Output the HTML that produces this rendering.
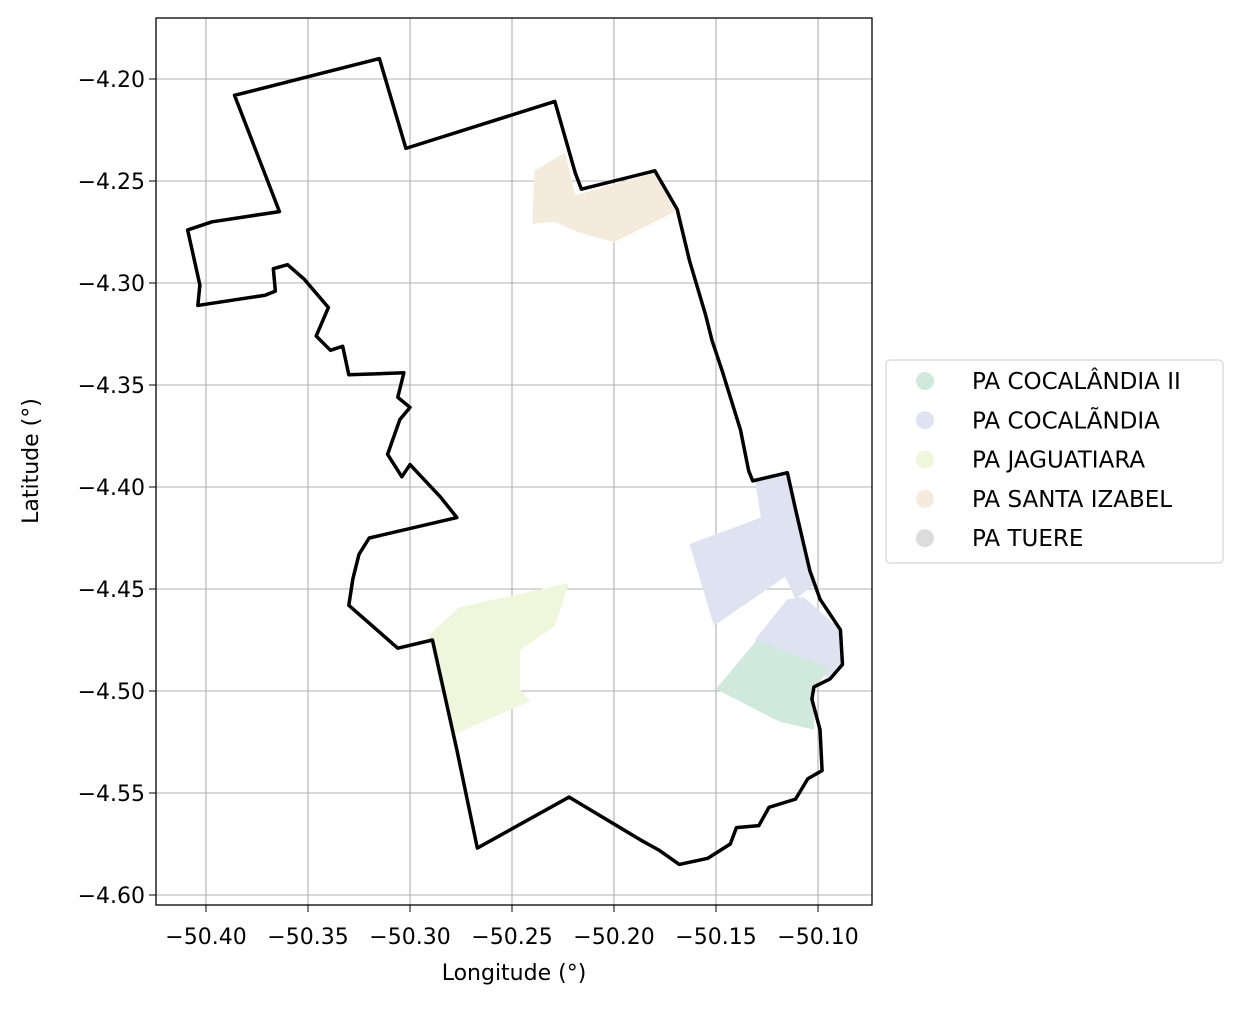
<!DOCTYPE html>
<html><head><meta charset="utf-8">
<style>
body{margin:0;background:#fff;}
svg text{font-family:"DejaVu Sans","Liberation Sans",sans-serif;}
</style></head>
<body>
<svg id="chart" width="1243" height="1006" viewBox="0 0 1243 1006" xmlns="http://www.w3.org/2000/svg">
<rect width="1243" height="1006" fill="#fff"/>
<g id="grid"></g>
<g id="fills"></g>
<g id="bound"></g>
<rect x="156" y="18" width="716" height="887" fill="none" stroke="#000" stroke-width="1.3"/>
<g id="ticks"></g>
<text x="514" y="980" font-size="22" text-anchor="middle">Longitude (°)</text>
<text x="38" y="461" font-size="22" text-anchor="middle" transform="rotate(-90 38 461)">Latitude (°)</text>
<g>
<rect x="886" y="360" width="337" height="203" rx="4" fill="#fff" stroke="#ccc"/>
<g id="legend"></g>
</g>
</svg>
<script>
const xTicks=[-50.40,-50.35,-50.30,-50.25,-50.20,-50.15,-50.10];
const yTicks=[-4.20,-4.25,-4.30,-4.35,-4.40,-4.45,-4.50,-4.55,-4.60];
const boundaryLon=[-50.386,-50.315,-50.302,-50.229,-50.219,-50.216,-50.180,-50.169,-50.163,-50.155,-50.152,-50.147,-50.138,-50.134,-50.132,-50.115,-50.111,-50.104,-50.099,-50.089,-50.088,-50.094,-50.102,-50.103,-50.099,-50.098,-50.105,-50.111,-50.124,-50.129,-50.140,-50.143,-50.154,-50.168,-50.178,-50.187,-50.222,-50.267,-50.277,-50.289,-50.306,-50.330,-50.328,-50.325,-50.320,-50.277,-50.285,-50.300,-50.304,-50.311,-50.305,-50.300,-50.306,-50.303,-50.330,-50.333,-50.339,-50.346,-50.340,-50.352,-50.360,-50.367,-50.366,-50.371,-50.404,-50.403,-50.409,-50.397,-50.364];
const boundaryLat=[-4.208,-4.190,-4.234,-4.211,-4.246,-4.254,-4.245,-4.264,-4.289,-4.316,-4.328,-4.343,-4.372,-4.392,-4.397,-4.393,-4.411,-4.441,-4.455,-4.470,-4.487,-4.494,-4.498,-4.504,-4.519,-4.539,-4.543,-4.553,-4.557,-4.566,-4.567,-4.575,-4.582,-4.585,-4.578,-4.573,-4.552,-4.577,-4.529,-4.475,-4.479,-4.458,-4.445,-4.433,-4.425,-4.415,-4.405,-4.389,-4.395,-4.384,-4.367,-4.361,-4.356,-4.344,-4.345,-4.331,-4.333,-4.326,-4.312,-4.298,-4.291,-4.293,-4.304,-4.306,-4.311,-4.301,-4.274,-4.270,-4.265];
const areaNames=["PA COCALÂNDIA II","PA COCALÃNDIA","PA JAGUATIARA","PA SANTA IZABEL","PA TUERE"];
const areaColors=["#cfeadd","#dfe3f1","#eef7dc","#f5ebdd","#dcdcdc"];
const santaLon=[-50.239,-50.224,-50.219,-50.180,-50.170,-50.200,-50.218,-50.229,-50.240];
const santaLat=[-4.245,-4.236,-4.257,-4.246,-4.265,-4.280,-4.275,-4.270,-4.271];
const coca1Lon=[-50.163,-50.128,-50.131,-50.115,-50.102,-50.111,-50.116,-50.151];
const coca1Lat=[-4.428,-4.415,-4.396,-4.393,-4.448,-4.455,-4.444,-4.468];
const coca2Lon=[-50.131,-50.115,-50.107,-50.089,-50.088,-50.094];
const coca2Lat=[-4.475,-4.455,-4.454,-4.470,-4.487,-4.494];
const coca3Lon=[-50.150,-50.130,-50.094,-50.102,-50.102,-50.119];
const coca3Lat=[-4.499,-4.475,-4.489,-4.499,-4.519,-4.515];
const jagLon=[-50.291,-50.276,-50.222,-50.229,-50.246,-50.246,-50.241,-50.278,-50.285];
const jagLat=[-4.473,-4.459,-4.447,-4.468,-4.480,-4.499,-4.505,-4.521,-4.499];

const NS="http://www.w3.org/2000/svg";
const X=lon=>206+(lon+50.4)*2040;
const Y=lat=>79+(-4.2-lat)*2040;
function mk(t,a,p){const e=document.createElementNS(NS,t);for(const k in a)e.setAttribute(k,a[k]);p.appendChild(e);return e;}
const grid=document.getElementById('grid'),ticks=document.getElementById('ticks');
xTicks.forEach(v=>{const x=X(v);
 const l=mk('line',{x1:x,x2:x,y1:18,y2:905,stroke:'#b0b0b0','stroke-width':1.1},grid);
 
 
 mk('line',{x1:x,x2:x,y1:905,y2:912,stroke:'#000'},ticks);
 const t=mk('text',{x:x,y:944,'font-size':22,'text-anchor':'middle'},ticks);t.textContent='\u2212'+Math.abs(v).toFixed(2);
 
 });
yTicks.forEach(v=>{const y=Y(v);
 const l=mk('line',{x1:156,x2:872,y1:y,y2:y,stroke:'#b0b0b0','stroke-width':1.1},grid);
 
 
 mk('line',{x1:149,x2:156,y1:y,y2:y,stroke:'#000'},ticks);
 const t=mk('text',{x:145,y:y+8,'font-size':22,'text-anchor':'end'},ticks);t.textContent='\u2212'+Math.abs(v).toFixed(2);
 
 });
const pts=(a,b)=>a.map((v,i)=>X(v)+','+Y(b[i])).join(' ');
const fills=document.getElementById('fills');
[[santaLon,santaLat,3,'santa-izabel-area'],[coca1Lon,coca1Lat,1,'cocalandia-area'],[coca2Lon,coca2Lat,1,'cocalandia-area'],[coca3Lon,coca3Lat,0,'cocalandia-ii-area'],[jagLon,jagLat,2,'jaguatiara-area']].forEach(d=>{
 const p=mk('polygon',{points:pts(d[0],d[1]),fill:areaColors[d[2]]},fills);
 
 });
const b=mk('polygon',{points:pts(boundaryLon,boundaryLat),fill:'none',stroke:'#000','stroke-width':3.5,'stroke-linejoin':'round'},document.getElementById('bound'));


const lg=document.getElementById('legend');
areaNames.forEach((n,i)=>{const y=381+i*39.3;
 const c=mk('circle',{cx:925,cy:y,r:9,fill:areaColors[i]},lg);
 
 
 const t=mk('text',{x:972,y:y+8,'font-size':23},lg);t.textContent=n;
 
 });
</script>
</body></html>
